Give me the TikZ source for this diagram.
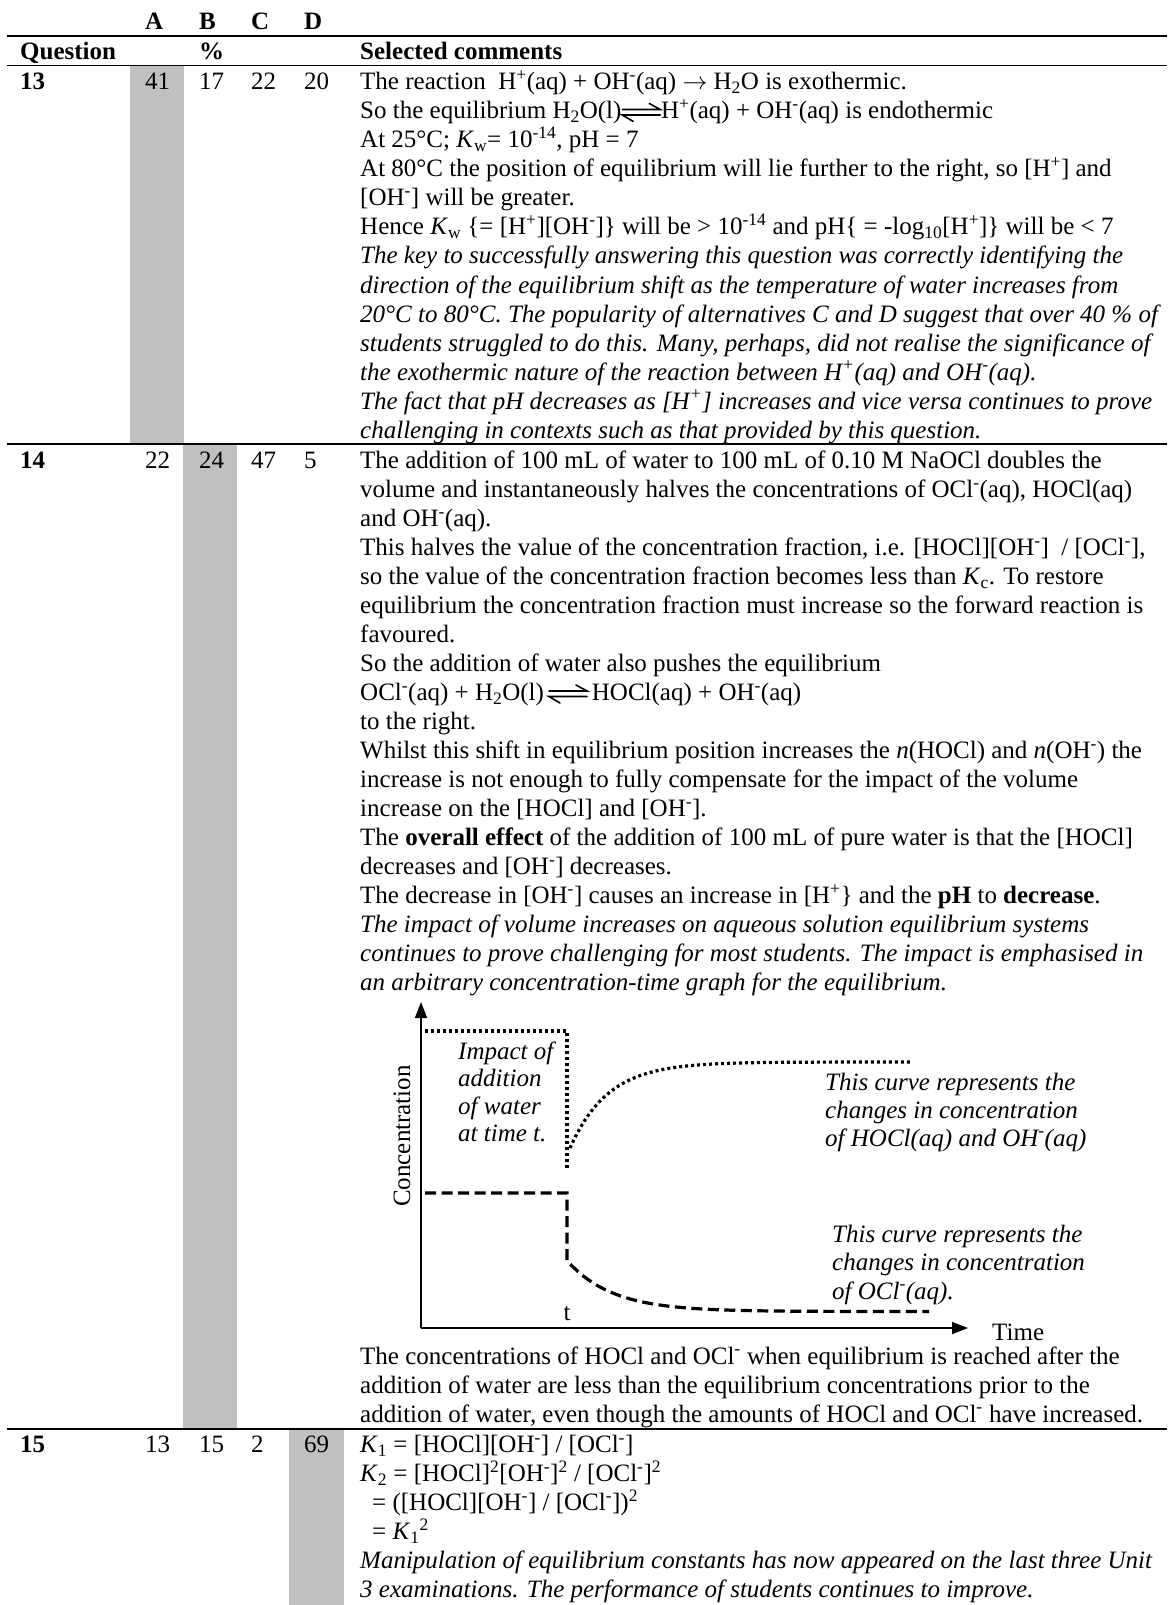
\documentclass[tikz,border=0pt]{standalone}
\usepackage{fontspec}
\setmainfont{Liberation Serif}
\usetikzlibrary{arrows.meta}
\definecolor{cellgray}{RGB}{192,192,192}
\newcommand\sps[1]{\textsuperscript{#1}}
\newcommand\sbs[1]{\textsubscript{#1}}
\newcommand\eqharp{\tikz[baseline=0pt,x=1pt,y=1pt,line width=1.6pt,line cap=round]{\draw (0,9.5) -- (38,9.5) -- (27,15.5); \draw (38,4) -- (0,4) -- (11,-2.5);}}
\begin{document}
\begin{tikzpicture}[x=1pt,y=-1pt,
  txt/.style={anchor=base west,inner sep=0pt,font=\fontsize{25}{29}\selectfont},
  itx/.style={txt,font=\fontsize{25}{29}\selectfont\itshape},
  bld/.style={txt,font=\fontsize{25}{29}\selectfont\bfseries},
  glab/.style={txt,font=\fontsize{25}{28}\selectfont\itshape},
  rulethin/.style={line width=1.3pt},
  rulethick/.style={line width=2.2pt},
  dotline/.style={line width=3.2pt,dash pattern=on 3pt off 3pt},
  dashline/.style={line width=3.2pt,dash pattern=on 11pt off 5.5pt},
  axis/.style={line width=1.6pt,-{Triangle[length=16pt,width=12pt]}}]
\useasboundingbox (0,0) rectangle (1167,1605);
% shaded answer cells
\fill[cellgray] (129.5,66.5) rectangle (184,444);
\fill[cellgray] (182.5,444) rectangle (237,1429);
\fill[cellgray] (289,1429) rectangle (344,1605);
% rules
\draw[rulethick] (7,35.7) -- (1167,35.7);
\draw[rulethin] (7,65.7) -- (1167,65.7);
\draw[rulethin] (7,444) -- (1167,444);
\draw[rulethin] (7,1429) -- (1167,1429);
% header
\node[bld] (hA) at (145,29.3) {A};
\node[bld] (hB) at (199,29.3) {B};
\node[bld] (hC) at (251,29.3) {C};
\node[bld] (hD) at (304,29.3) {D};
\node[bld] (hq) at (20,60) {Question};
\node[bld] (hp) at (199,60) {\%};
\node[bld] (hs) at (360,60) {Selected comments};
% question numbers and percentages
\node[bld] (q13) at (20,90) {13};
\node[txt] (a13) at (145,90) {41};
\node[txt] (b13) at (199,90) {17};
\node[txt] (c13) at (251,90) {22};
\node[txt] (d13) at (304,90) {20};
\node[bld] (q14) at (20,468.5) {14};
\node[txt] (a14) at (145,468.5) {22};
\node[txt] (b14) at (199,468.5) {24};
\node[txt] (c14) at (251,468.5) {47};
\node[txt] (d14) at (304,468.5) {5};
\node[bld] (q15) at (20,1452.5) {15};
\node[txt] (a15) at (145,1452.5) {13};
\node[txt] (b15) at (199,1452.5) {15};
\node[txt] (c15) at (251,1452.5) {2};
\node[txt] (d15) at (304,1452.5) {69};
% row 13 comments
\node[txt] (m1) at (360,90) {The reaction\ \ H\sps{+}(aq) + OH\sps{-}(aq) $\rightarrow$ H\sbs{2}O is exothermic.};
\node[txt] (m2) at (360,119) {So the equilibrium H\sbs{2}O(l)\eqharp H\sps{+}(aq) + OH\sps{-}(aq) is endothermic};
\node[txt] (m3) at (360,148) {At 25°C; \textit{K}\sbs{w}= 10\sps{-14}, pH = 7};
\node[txt] (m4) at (360,177) {At 80°C the position of equilibrium will lie further to the right, so [H\sps{+}] and};
\node[txt] (m5) at (360,206) {[OH\sps{-}] will be greater.};
\node[txt] (m6) at (360,235) {Hence \textit{K}\sbs{w} \{= [H\sps{+}][OH\sps{-}]\} will be > 10\sps{-14} and pH\{ = -log\sbs{10}[H\sps{+}]\} will be < 7};
\node[itx] (m7) at (360,264) {The key to successfully answering this question was correctly identifying the};
\node[itx] (m8) at (360,293) {direction of the equilibrium shift as the temperature of water increases from};
\node[itx] (m9) at (360,322) {20°C to 80°C. The popularity of alternatives C and D suggest that over 40 \% of};
\node[itx] (m10) at (360,351) {students struggled to do this. Many, perhaps, did not realise the significance of};
\node[itx] (m11) at (360,380) {the exothermic nature of the reaction between H\sps{+}(aq) and OH\sps{-}(aq).};
\node[itx] (m12) at (360,409) {The fact that pH decreases as [H\sps{+}] increases and vice versa continues to prove};
\node[itx] (m13) at (360,438) {challenging in contexts such as that provided by this question.};
% row 14 comments
\node[txt] (n1) at (360,468.5) {The addition of 100 mL of water to 100 mL of 0.10 M NaOCl doubles the};
\node[txt] (n2) at (360,497.5) {volume and instantaneously halves the concentrations of OCl\sps{-}(aq), HOCl(aq)};
\node[txt] (n3) at (360,526.5) {and OH\sps{-}(aq).};
\node[txt] (n4) at (360,555.5) {This halves the value of the concentration fraction, i.e. [HOCl][OH\sps{-}]\ \ / [OCl\sps{-}],};
\node[txt] (n5) at (360,584.5) {so the value of the concentration fraction becomes less than \textit{K}\sbs{c}. To restore};
\node[txt] (n6) at (360,613.5) {equilibrium the concentration fraction must increase so the forward reaction is};
\node[txt] (n7) at (360,642.5) {favoured.};
\node[txt] (n8) at (360,671.5) {So the addition of water also pushes the equilibrium};
\node[txt] (n9) at (360,700.5) {OCl\sps{-}(aq) + H\sbs{2}O(l)\,\eqharp\,HOCl(aq) + OH\sps{-}(aq)};
\node[txt] (n10) at (360,729.5) {to the right.};
\node[txt] (n11) at (360,758.5) {Whilst this shift in equilibrium position increases the \textit{n}(HOCl) and \textit{n}(OH\sps{-}) the};
\node[txt] (n12) at (360,787.5) {increase is not enough to fully compensate for the impact of the volume};
\node[txt] (n13) at (360,816.5) {increase on the [HOCl] and [OH\sps{-}].};
\node[txt] (n14) at (360,845.5) {The \textbf{overall effect} of the addition of 100 mL of pure water is that the [HOCl]};
\node[txt] (n15) at (360,874.5) {decreases and [OH\sps{-}] decreases.};
\node[txt] (n16) at (360,903.5) {The decrease in [OH\sps{-}] causes an increase in [H\sps{+}\} and the \textbf{pH} to \textbf{decrease}.};
\node[itx] (n17) at (360,932.5) {The impact of volume increases on aqueous solution equilibrium systems};
\node[itx] (n18) at (360,961.5) {continues to prove challenging for most students. The impact is emphasised in};
\node[itx] (n19) at (360,990.5) {an arbitrary concentration-time graph for the equilibrium.};
% graph
\coordinate (org) at (421,1328);
\coordinate (ytip) at (421,1002);
\coordinate (xtip) at (968,1328);
\draw[axis] (org) -- (ytip);
\draw[axis] (org) -- (xtip);
\node[txt] (xl) at (992,1340) {Time};
\node[anchor=center,inner sep=0pt,rotate=90,font=\fontsize{25}{28}\selectfont] (yl) at (402,1136) {Concentration};
\node[anchor=base,inner sep=0pt,font=\fontsize{25}{28}\selectfont] (tl) at (567,1320) {t};
\draw[dotline] (425,1031) -- (567,1031) -- (567,1169);
\draw[dotline] plot[domain=570:910,samples=70] (\x,{1062+86*exp(-(\x-570)/38)});
\draw[dashline] (425,1193) -- (567,1193) -- (567,1256) -- plot[domain=567:929,samples=70] (\x,{1311.5-51*exp(-(\x-567)/45)});
\node[glab] (g1) at (458,1059) {Impact of};
\node[glab] (g2) at (458,1086.5) {addition};
\node[glab] (g3) at (458,1114) {of water};
\node[glab] (g4) at (458,1141.5) {at time t.};
\node[glab] (h1) at (825,1090) {This curve represents the};
\node[glab] (h2) at (825,1118) {changes in concentration};
\node[glab] (h3) at (825,1146) {of HOCl(aq) and OH\sps{-}(aq)};
\node[glab] (k1) at (832,1242) {This curve represents the};
\node[glab] (k2) at (832,1270) {changes in concentration};
\node[glab] (k3) at (832,1299) {of OCl\sps{-}(aq).};
% after graph
\node[txt] (p1) at (360,1364) {The concentrations of HOCl and OCl\sps{-} when equilibrium is reached after the};
\node[txt] (p2) at (360,1393) {addition of water are less than the equilibrium concentrations prior to the};
\node[txt] (p3) at (360,1422) {addition of water, even though the amounts of HOCl and OCl\sps{-} have increased.};
% row 15 comments
\node[txt] (r1) at (360,1452.5) {\textit{K}\sbs{1} = [HOCl][OH\sps{-}] / [OCl\sps{-}]};
\node[txt] (r2) at (360,1481.5) {\textit{K}\sbs{2} = [HOCl]\sps{2}[OH\sps{-}]\sps{2} / [OCl\sps{-}]\sps{2}};
\node[txt] (r3) at (372,1510.5) {= ([HOCl][OH\sps{-}] / [OCl\sps{-}])\sps{2}};
\node[txt] (r4) at (372,1539.5) {= \textit{K}\sbs{1}\sps{2}};
\node[itx] (r5) at (360,1568.5) {Manipulation of equilibrium constants has now appeared on the last three Unit};
\node[itx] (r6) at (360,1597.5) {3 examinations. The performance of students continues to improve.};
\end{tikzpicture}
\end{document}
